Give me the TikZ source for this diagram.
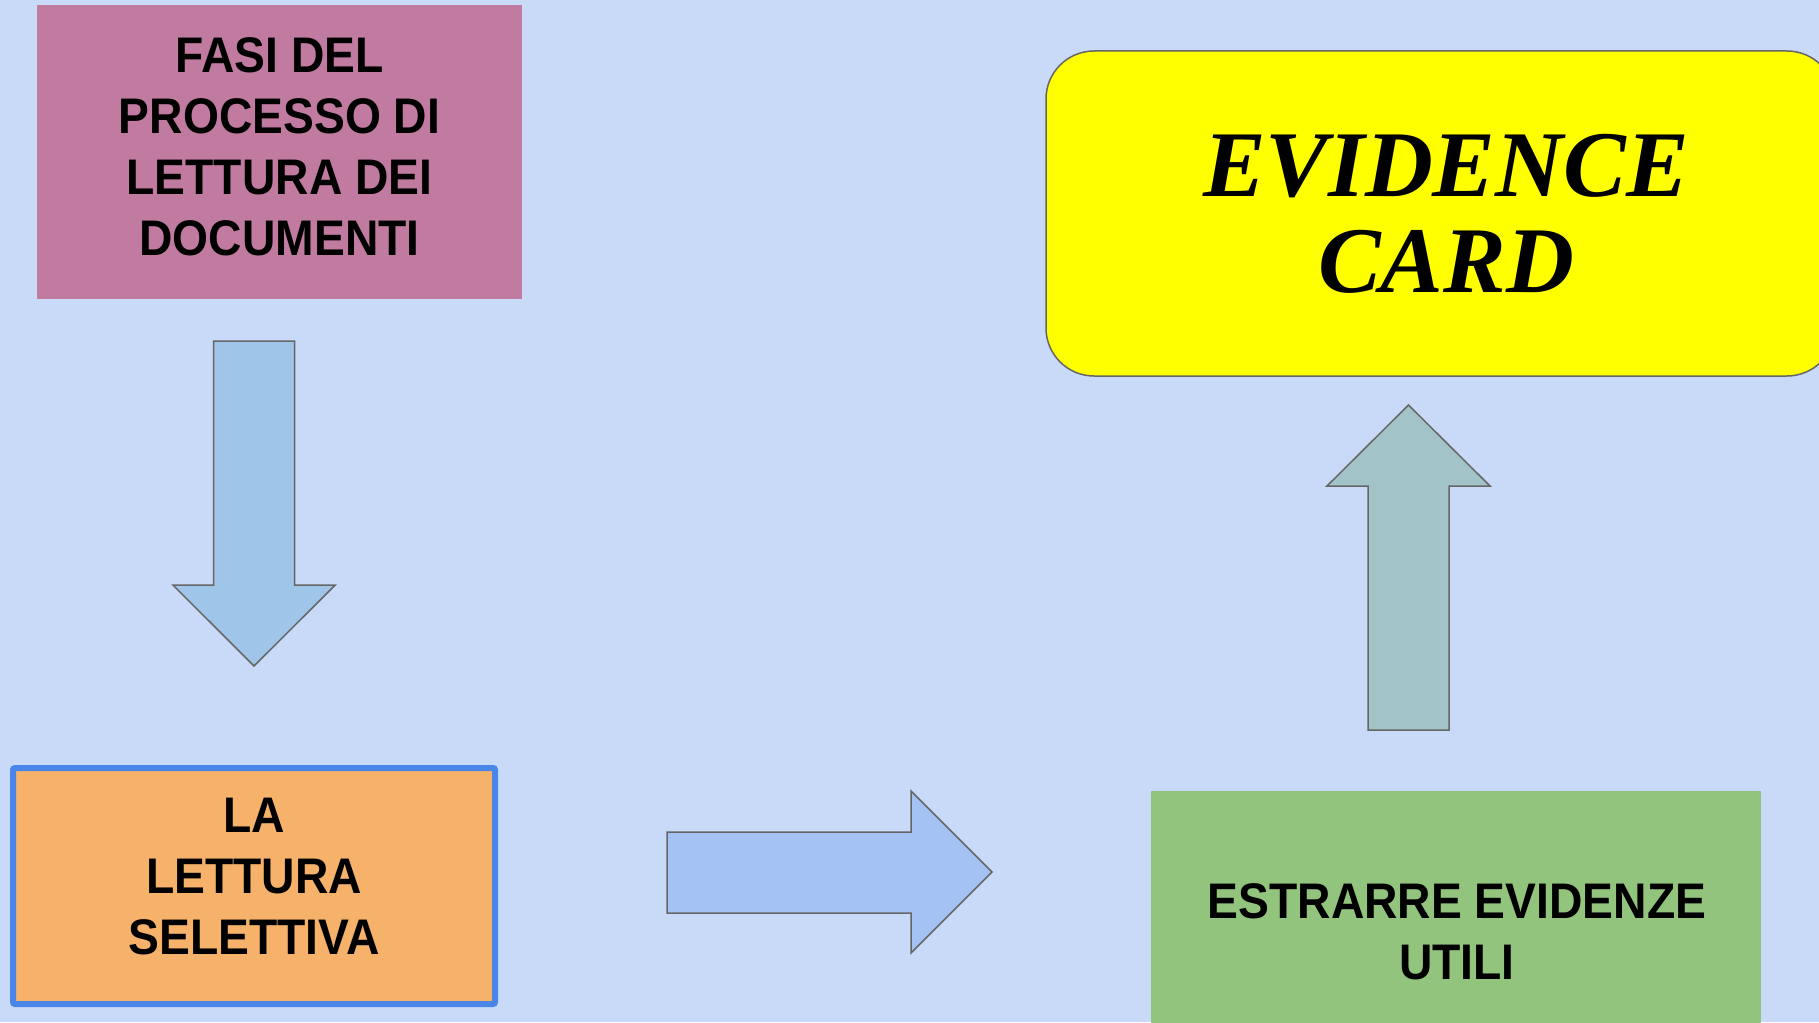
\documentclass[tikz,border=0pt]{standalone}
\usepackage{fontspec}
\newfontfamily\rob[FakeStretch=0.925]{Liberation Sans}
\newfontfamily\scr{Liberation Serif}
\definecolor{bgc}{HTML}{C9DAF8}
\definecolor{pinkc}{HTML}{C27BA0}
\definecolor{yelc}{HTML}{FFFF00}
\definecolor{orac}{HTML}{F6B26B}
\definecolor{bluebd}{HTML}{4A86E8}
\definecolor{greenc}{HTML}{93C47D}
\definecolor{downc}{HTML}{9FC5E8}
\definecolor{rightc}{HTML}{A4C2F4}
\definecolor{upc}{HTML}{A2C4C9}
\definecolor{edgec}{HTML}{666666}
\tikzset{
  box/.style={rectangle, inner sep=0pt, outer sep=0pt},
  boxtext/.style={inner sep=0pt, align=center, text=black,
     font=\rob\bfseries\fontsize{50}{61}\selectfont},
  blockarrow/.style={draw=edgec, line width=1.5pt, line join=miter}
}
\begin{document}
\begin{tikzpicture}[x=1pt,y=-1pt]
\useasboundingbox (0,0) rectangle (1819,1022);
\fill[bgc] (0,0) rectangle (1819,1022);
\clip (0,0) rectangle (1819,1022);

% boxes
\node[box, fill=pinkc, minimum width=485pt, minimum height=294pt] (fasi) at (279.5,152) {};
\node[boxtext] (fasiT) at ([yshift=5.5pt]fasi.center) {FASI DEL\\PROCESSO DI\\LETTURA DEI\\DOCUMENTI};

\node[box, fill=orac, draw=bluebd, line width=6pt, rounded corners=2pt,
      minimum width=482pt, minimum height=236pt] (lett) at (254,886) {};
\node[boxtext] (lettT) at ([yshift=9pt]lett.center) {LA\\LETTURA\\SELETTIVA};

\node[box, fill=greenc, minimum width=610pt, minimum height=249pt] (estr) at (1456,915.5) {};
\node[boxtext] (estrT) at (1457,931.5) {ESTRARRE EVIDENZE\\UTILI};

\node[box, fill=yelc, draw=edgec, line width=1.5pt, rounded corners=48pt,
      minimum width=789pt, minimum height=325pt] (card) at (1440.5,213.5) {};
\node[inner sep=0pt, align=center, font=\scr\bfseries\itshape\fontsize{94}{96}\selectfont]
      (cardT) at (1446,214) {EVIDENCE\\CARD};

% block arrows
\draw[blockarrow, fill=downc] (213.5,341) -- (294.7,341) -- (294.7,585) -- (335.3,585)
   -- (254,666) -- (172.9,585) -- (213.5,585) -- cycle;
\draw[blockarrow, fill=rightc] (667,832) -- (911,832) -- (911,791) -- (992,872)
   -- (911,953) -- (911,913) -- (667,913) -- cycle;
\draw[blockarrow, fill=upc] (1368,730) -- (1368,486) -- (1327,486) -- (1408.5,405)
   -- (1490,486) -- (1449,486) -- (1449,730) -- cycle;
\end{tikzpicture}
\end{document}
